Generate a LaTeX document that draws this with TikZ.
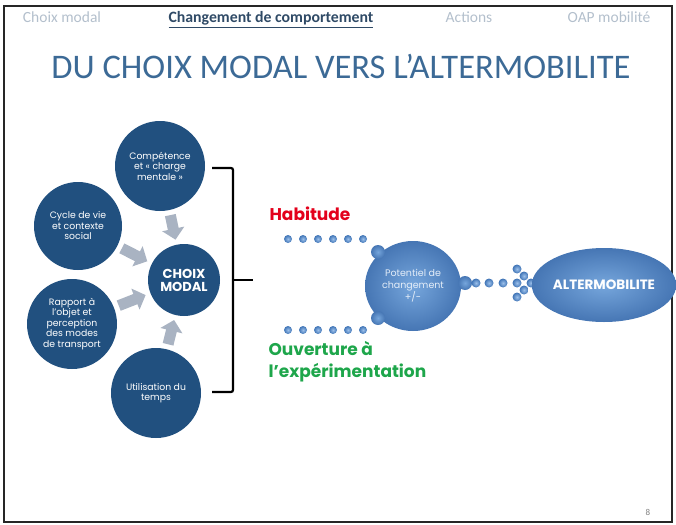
\documentclass[tikz,border=0pt]{standalone}
\usepackage{fontspec}
\setmainfont{Carlito}
\newfontfamily\popfont{Poppins}
\usetikzlibrary{arrows.meta,shapes.geometric}

\definecolor{marine}{HTML}{21507F}
\definecolor{grisfl}{HTML}{A9B3C2}
\definecolor{titrebleu}{HTML}{3C6A96}
\definecolor{ongletgris}{HTML}{B3BFCC}
\definecolor{ongletactif}{HTML}{2F4A66}
\definecolor{bleuclair}{HTML}{76A6DC}
\definecolor{bleufonce}{HTML}{4676B4}
\definecolor{pointclair}{HTML}{9CC0EA}
\definecolor{pointbleu}{HTML}{3F74B6}
\definecolor{rouge}{HTML}{E3001B}
\definecolor{vert}{HTML}{1EA64B}

\tikzset{
    rond/.style={circle, fill=marine, text=white, align=center, inner sep=0pt,
        minimum size=90pt, font=\popfont\fontsize{9.3}{10.5}\selectfont},
    flecheg/.style={draw=grisfl, line width=11pt, -{Triangle[width=22pt,length=11pt]},
        shorten <=5pt, shorten >=5pt},
    bulle/.style={ellipse, inner color=bleuclair, outer color=bleufonce, align=center, inner sep=0pt},
    point/.style={circle, inner color=pointclair, outer color=pointbleu, inner sep=0pt, minimum size=#1},
    point/.default=8pt,
    onglet/.style={anchor=base, font=\fontsize{15.5}{17}\selectfont, text=ongletgris},
    accolade/.style={line width=2.2pt, rounded corners=2pt}
}

\begin{document}
\begin{tikzpicture}[x=1pt, y=-1pt]
    \useasboundingbox (0,0) rectangle (676,524);

    % cadre de la diapositive
    \draw[line width=1.5pt, black!85] (4,6) rectangle (672,522);

    % onglets du haut
    \node[onglet] (ong1) at (62,23) {Choix modal};
    \node[onglet, text=ongletactif, font=\bfseries\fontsize{15.8}{17}\selectfont] (ong2) at (271,23) {\underline{Changement de comportement}};
    \node[onglet] (ong3) at (469,23) {Actions};
    \node[onglet] (ong4) at (609,23) {OAP mobilité};

    % titre
    \node[text=titrebleu, font=\fontsize{34.5}{38}\selectfont] (titre) at (341,66) {DU CHOIX MODAL VERS L’ALTERMOBILITE};

    % 1. les cercles autour du choix modal
    \node[rond, minimum size=72pt, font=\popfont\bfseries\fontsize{13}{13}\selectfont] (choix) at (184,280) {CHOIX\\MODAL};
    \node[rond] (comp) at (160,166) {Compétence\\et « charge\\mentale »};
    \node[rond, minimum size=88pt] (cycle) at (78,226) {Cycle de vie\\et contexte\\social};
    \node[rond] (rapport) at (72,324) {Rapport à\\l’objet et\\perception\\des modes\\de transport};
    \node[rond] (temps) at (156,393) {Utilisation du\\temps};

    % 2. flèches grises vers le choix modal
    \foreach \src in {comp, cycle, rapport, temps} {
        \draw[flecheg] (\src) -- (choix);
    }

    % 3. accolade
    \draw[accolade] (212,168) -- (233,168) -- (233,392) -- (212,392);
    \draw[accolade] (233,280) -- (253,280);

    % 4. habitude / ouverture
    \node[anchor=west, text=rouge, font=\popfont\bfseries\fontsize{17}{20}\selectfont] (habitude) at (266,214) {Habitude};
    \node[anchor=north west, align=left, text=vert, font=\popfont\bfseries\fontsize{17}{22}\selectfont] (ouverture) at (265,338) {Ouverture à\\l’expérimentation};

    % 5. potentiel de changement
    \node[bulle, minimum width=96pt, minimum height=90pt, text=white!80!bleuclair,
        font=\popfont\fontsize{9.5}{12}\selectfont] (potentiel) at (413,286) {Potentiel de\\changement\\+/-};
    \foreach \nom/\x/\y in {bh/378/252, bb/378/318, bd/465/283} {
        \node[point=14pt, inner color=bleuclair, outer color=bleufonce] (\nom) at (\x,\y) {};
    }

    % rangées de points
    \foreach \x [count=\i] in {288,303,318,333,348,363} {
        \node[point] (ph\i) at (\x,239) {};
        \node[point] (pb\i) at (\x,330) {};
    }
    \foreach \x/\y [count=\i] in {476/283, 489/283, 503/283, 517/283, 517/269, 524/276, 531/283, 524/290, 517/297} {
        \node[point=9pt] (pd\i) at (\x,\y) {};
    }

    % 6. altermobilite
    \node[bulle, minimum width=128pt, minimum height=74pt, text=white,
        font=\popfont\bfseries\fontsize{13.5}{15}\selectfont] (alter) at (604,285) {ALTERMOBILITE};

    % numéro de page
    \node[text=gray, font=\fontsize{9}{10}\selectfont] (page) at (648,512) {8};
\end{tikzpicture}
\end{document}
